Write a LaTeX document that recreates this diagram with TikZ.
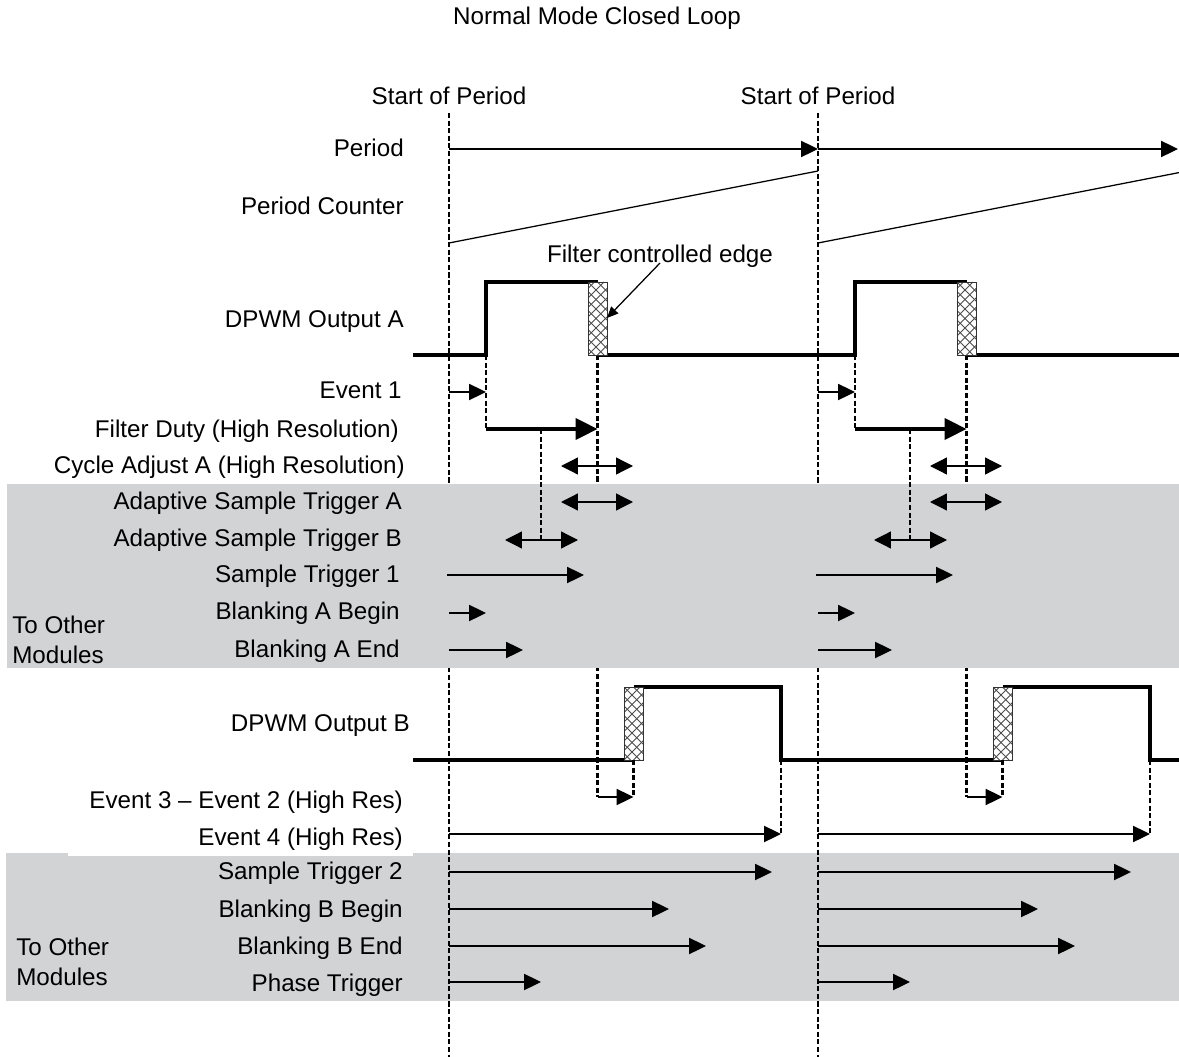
\documentclass[tikz,border=0pt]{standalone}
\usepackage{fontspec}
\setmainfont{Liberation Sans}
\usetikzlibrary{arrows.meta}
\definecolor{bandgray}{HTML}{D1D3D4}
% cross hatched edge box, 19 x 73
\newcommand{\hatchbox}[2]{%
	\begin{scope}
		\clip (#1,#2) rectangle ++(19,73);
		\fill[white] (#1,#2) rectangle ++(19,73);
		\foreach \k in {-76,-66.5,...,20}
			\draw[line width=0.6pt,black!70] ({#1+(\k)},#2) -- ++(73,73) ({#1+(\k)},#2+73) -- ++(73,-73);
	\end{scope}
	\draw[line width=0.7pt,black!80] (#1,#2) rectangle ++(19,73);}
\begin{document}
\begin{tikzpicture}[x=0.025cm,y=-0.025cm, font=\fontsize{17.2pt}{21pt}\selectfont, line join=miter,
	lbl/.style={anchor=base east,inner sep=0pt},
	sig/.style={line width=2.4pt},
	edgeline/.style={dash pattern=on 3.6pt off 1.8pt, line width=1.5pt},
	arr/.style={-{Triangle[length=12pt,width=11.5pt]}, line width=0.9pt},
	darr/.style={{Triangle[length=12pt,width=12pt]}-{Triangle[length=12pt,width=12pt]}, line width=0.9pt},
	farr/.style={-{Triangle[length=15.5pt,width=15pt]}, line width=2.4pt}]
	\useasboundingbox (0,0) rectangle (1179,1057);
	\def\ta{449} \def\tb{818} % start of period
	% grey bands
	\fill[bandgray] (6,853) rectangle (1179,1001);
	\fill[white] (68,853) rectangle (413,856);
	\draw[edgeline] (\ta,113) -- (\ta,1057) (\tb,113) -- (\tb,1057);
	\foreach \o in {0,369} \draw[edgeline] (597.5+\o,355) -- (597.5+\o,797);
	\fill[bandgray] (7,484) rectangle (1179,668);
	% texts
	\node (title) at (597,25) [anchor=base] {Normal Mode Closed Loop};
	\node (sop1) at (\ta,105) [anchor=base] {Start of Period};
	\node (sop2) at (\tb,105) [anchor=base] {Start of Period};
	\node[lbl] (period) at (404,157) {Period};
	\node[lbl] (counter) at (404,215) {Period Counter};
	\node[lbl] (outA) at (404,328) {DPWM Output A};
	\node[lbl] (ev1) at (402,398) {Event 1};
	\node[lbl] (fduty) at (399,437) {Filter Duty (High Resolution)};
	\node[lbl] (cadj) at (405,473) {Cycle Adjust A (High Resolution)};
	\node[lbl] (asta) at (402,509) {Adaptive Sample Trigger A};
	\node[lbl] (astb) at (402,546) {Adaptive Sample Trigger B};
	\node[lbl] (st1) at (400,582) {Sample Trigger 1};
	\node[lbl] (blab) at (400,619) {Blanking A Begin};
	\node[lbl] (blae) at (400,657) {Blanking A End};
	\node[anchor=west,inner sep=0pt,align=left] (othA) at (12,640) {To Other\\Modules};
	\node[lbl] (outB) at (410,731) {DPWM Output B};
	\node[lbl] (ev32) at (403,808) {Event 3 – Event 2 (High Res)};
	\node[lbl] (ev4) at (403,845) {Event 4 (High Res)};
	\node[lbl] (st2) at (403,879) {Sample Trigger 2};
	\node[lbl] (blbb) at (403,917) {Blanking B Begin};
	\node[lbl] (blbe) at (403,954) {Blanking B End};
	\node[lbl] (phase) at (403,991) {Phase Trigger};
	\node[anchor=west,inner sep=0pt,align=left] (othB) at (16,962) {To Other\\Modules};
	% period and counter
	\draw[arr] (\ta,149) -- (\tb,149);
	\draw[arr] (\tb,149) -- (1178,149);
	\draw[line width=0.9pt] (\ta,243) -- (\tb,171) (\tb,243) -- (1179,172.6);
	% DPWM outputs
	\draw[sig] (413,355) -| (486,282) -- (597.5,282) (597.5,355) -- (855,355) |- (966.5,282) (966.5,355) -- (1179,355);
	\draw[sig] (413,760) -- (633.5,760) (633.5,687) -| (781,760) -- (1002.5,760) (1002.5,687) -| (1150,760) -- (1179,760);
	\foreach \o/\s in {0/772,369/1131}{
		\hatchbox{588+\o}{282}
		\hatchbox{624+\o}{687}
		\draw[edgeline] (486+\o,355) -- (486+\o,429);
		\draw[edgeline] (541+\o,429) -- (541+\o,540);
		\draw[edgeline] (633.5+\o,760) -- (633.5+\o,797);
		\draw[edgeline] (781+\o,760) -- (781+\o,834);
		\draw[arr] (\ta+\o,392) -- (486+\o,392);
		\draw[farr] (486+\o,429) -- (597.5+\o,429);
		\draw[darr] (561+\o,466) -- (633+\o,466);
		\draw[darr] (561+\o,502) -- (633+\o,502);
		\draw[darr] (505+\o,540) -- (578+\o,540);
		\draw[arr] (447+\o,575) -- (584+\o,575);
		\draw[arr] (\ta+\o,613) -- (486+\o,613);
		\draw[arr] (\ta+\o,650) -- (523+\o,650);
		\draw[arr] (597.5+\o,797) -- (633.5+\o,797);
		\draw[arr] (\ta+\o,834) -- (781+\o,834);
		\draw[arr] (\ta+\o,872) -- (\s,872);
		\draw[arr] (\ta+\o,909) -- (669+\o,909);
		\draw[arr] (\ta+\o,946) -- (706+\o,946);
		\draw[arr] (\ta+\o,982) -- (541+\o,982);
	}
	% filter controlled edge
	\node (fce) at (660,263) [anchor=base,inner sep=0pt] {Filter controlled edge};
	\coordinate (fcetip) at (607,318);
	\draw[-{Triangle[length=8pt,width=7pt]}, line width=0.9pt] (fce.base) -- (fcetip);
\end{tikzpicture}
\end{document}
